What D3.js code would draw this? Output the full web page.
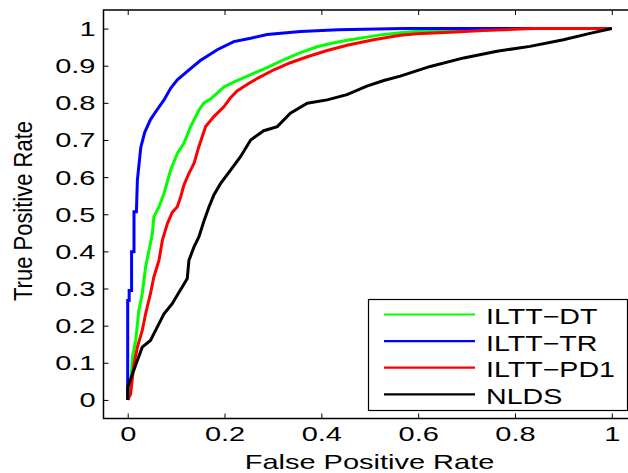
<!DOCTYPE html>
<html>
<head>
<meta charset="utf-8">
<script src="https://cdn.jsdelivr.net/npm/d3@7"></script>
<style>
body { margin: 0; background: #fff; }
svg { display: block; font-family: "Liberation Sans", Arial, Helvetica, sans-serif; }
</style>
</head>
<body>
<svg width="628" height="473"></svg>
<script>
'use strict';

const seriesNames = ["ILTT\u2212DT", "ILTT\u2212TR", "ILTT\u2212PD1", "NLDS"];
const seriesColors = ["#00ff00", "#0000ff", "#ff0000", "#000000"];

// ILTT-DT
const dtFpr = [0, 0.006, 0.0097, 0.0165, 0.023, 0.03, 0.037, 0.044, 0.051, 0.054, 0.0646, 0.075, 0.0887, 0.1025, 0.116, 0.13, 0.147, 0.157, 0.171, 0.185, 0.199, 0.219, 0.254, 0.288, 0.322, 0.357, 0.391, 0.426, 0.46, 0.494, 0.522, 0.563, 0.598, 0.67, 0.76, 1];
const dtTpr = [0, 0.034, 0.115, 0.16, 0.241, 0.286, 0.358, 0.403, 0.448, 0.493, 0.52, 0.556, 0.619, 0.664, 0.691, 0.736, 0.78, 0.799, 0.81, 0.826, 0.843, 0.856, 0.876, 0.895, 0.916, 0.935, 0.951, 0.962, 0.97, 0.977, 0.983, 0.989, 0.993, 0.995, 1, 1];

// ILTT-TR
const trFpr = [0, 0, 0.003, 0.003, 0.008, 0.008, 0.013, 0.013, 0.018, 0.02, 0.027, 0.035, 0.047, 0.06, 0.075, 0.089, 0.1025, 0.123, 0.15, 0.185, 0.219, 0.254, 0.288, 0.357, 0.435, 0.57, 1];
const trTpr = [0, 0.268, 0.268, 0.295, 0.295, 0.399, 0.399, 0.507, 0.507, 0.592, 0.68, 0.72, 0.755, 0.78, 0.808, 0.84, 0.862, 0.885, 0.914, 0.943, 0.965, 0.974, 0.984, 0.992, 0.997, 1, 1];

// ILTT-PD1
const pdFpr = [0, 0.006, 0.013, 0.02, 0.03, 0.037, 0.047, 0.054, 0.0646, 0.0716, 0.082, 0.092, 0.1025, 0.109, 0.116, 0.1265, 0.137, 0.147, 0.161, 0.178, 0.199, 0.212, 0.226, 0.25, 0.268, 0.302, 0.336, 0.371, 0.412, 0.453, 0.508, 0.563, 0.598, 0.666, 0.735, 0.838, 1];
const pdTpr = [0, 0.016, 0.097, 0.142, 0.187, 0.232, 0.286, 0.331, 0.376, 0.43, 0.475, 0.505, 0.52, 0.545, 0.578, 0.61, 0.637, 0.682, 0.736, 0.763, 0.79, 0.813, 0.832, 0.852, 0.866, 0.889, 0.908, 0.924, 0.941, 0.955, 0.97, 0.982, 0.986, 0.99, 0.995, 1, 1];

// NLDS
const nlFpr = [0, 0, 0.0097, 0.02, 0.03, 0.047, 0.061, 0.075, 0.092, 0.106, 0.113, 0.123, 0.1265, 0.137, 0.147, 0.157, 0.168, 0.178, 0.192, 0.2125, 0.233, 0.254, 0.281, 0.309, 0.336, 0.371, 0.412, 0.453, 0.494, 0.529, 0.563, 0.625, 0.694, 0.763, 0.831, 0.9, 0.955, 1];
const nlTpr = [0, 0.034, 0.07, 0.106, 0.142, 0.16, 0.196, 0.232, 0.259, 0.29, 0.305, 0.327, 0.376, 0.412, 0.439, 0.48, 0.52, 0.552, 0.583, 0.619, 0.655, 0.7, 0.725, 0.736, 0.772, 0.799, 0.808, 0.822, 0.845, 0.86, 0.872, 0.898, 0.921, 0.939, 0.952, 0.97, 0.987, 1];

const xTicks = [0, 0.2, 0.4, 0.6, 0.8, 1];
const yTicks = [0, 0.1, 0.2, 0.3, 0.4, 0.5, 0.6, 0.7, 0.8, 0.9, 1];

const series = [
	{ fpr: dtFpr, tpr: dtTpr },
	{ fpr: trFpr, tpr: trTpr },
	{ fpr: pdFpr, tpr: pdTpr },
	{ fpr: nlFpr, tpr: nlTpr }
];

const svg = d3.select("svg");

const x = d3.scaleLinear().domain([-0.05, 1.05]).range([103.5, 636]);
const y = d3.scaleLinear().domain([-0.05, 1.05]).range([418.5, 10]);
const fmt = d3.format("~g");

// box
svg.append("rect")
	.attr("x", x(-0.05)).attr("y", y(1.05))
	.attr("width", x(1.05) - x(-0.05))
	.attr("height", y(-0.05) - y(1.05))
	.attr("fill", "none")
	.attr("stroke", "#000")
	.attr("stroke-width", 1.5);

// axes with inward ticks
const bottomAxis = svg.append("g")
	.attr("transform", `translate(0,${y(-0.05)})`)
	.call(d3.axisBottom(x).tickValues(xTicks).tickFormat(fmt).tickSizeInner(-5).tickSizeOuter(0));
svg.append("g")
	.attr("transform", `translate(0,${y(1.05)})`)
	.call(d3.axisTop(x).tickValues(xTicks).tickFormat("").tickSizeInner(-5).tickSizeOuter(0));
const leftAxis = svg.append("g")
	.attr("transform", `translate(${x(-0.05)},0)`)
	.call(d3.axisLeft(y).tickValues(yTicks).tickFormat(fmt).tickSizeInner(-5).tickSizeOuter(0));
svg.append("g")
	.attr("transform", `translate(${x(1.05)},0)`)
	.call(d3.axisRight(y).tickValues(yTicks).tickFormat("").tickSizeInner(-5).tickSizeOuter(0));

svg.selectAll(".domain").remove();
svg.selectAll(".tick line").attr("stroke", "#000").attr("stroke-width", 1);

bottomAxis.selectAll("text")
	.attr("x", null).attr("y", null).attr("dy", null)
	.attr("transform", `translate(0,${441 - y(-0.05)}) scale(1.45,1)`)
	.attr("font-size", 20)
	.attr("font-family", null)
	.attr("fill", "#000");

leftAxis.selectAll("text")
	.attr("x", null).attr("dy", null)
	.attr("transform", "translate(-8,7) scale(1.45,1)")
	.attr("font-size", 20)
	.attr("font-family", null)
	.attr("fill", "#000");

// curves
const line = d3.line()
	.x(d => x(d[0]))
	.y(d => y(d[1]));

svg.append("g")
	.selectAll("path")
	.data(series)
	.enter().append("path")
	.attr("d", d => line(d3.zip(d.fpr, d.tpr)))
	.attr("fill", "none")
	.attr("stroke", (d, i) => seriesColors[i])
	.attr("stroke-width", 3);

// axis titles
svg.append("text")
	.attr("transform", "translate(369.5,469) scale(1.45,1)")
	.attr("text-anchor", "middle")
	.attr("font-size", 20)
	.text("False Positive Rate");

svg.append("text")
	.attr("transform", "translate(31.5,211) rotate(-90) scale(1,1.15)")
	.attr("text-anchor", "middle")
	.attr("font-size", 22)
	.text("True Positive Rate");

// legend
const legend = svg.append("g");
legend.append("rect")
	.attr("x", 368.5).attr("y", 299.5)
	.attr("width", 259).attr("height", 111)
	.attr("fill", "#fff")
	.attr("stroke", "#000")
	.attr("stroke-width", 1.2);

const rows = legend.selectAll("g.row")
	.data(seriesNames)
	.enter().append("g")
	.attr("class", "row")
	.attr("transform", (d, i) => `translate(0,${314.5 + i * 26.6})`);

rows.append("line")
	.attr("x1", 384).attr("x2", 475)
	.attr("stroke", (d, i) => seriesColors[i])
	.attr("stroke-width", 2.2);

rows.append("text")
	.attr("transform", "translate(486,9.5) scale(1.3,1)")
	.attr("font-size", 22)
	.text(d => d);
</script>
</body>
</html>
